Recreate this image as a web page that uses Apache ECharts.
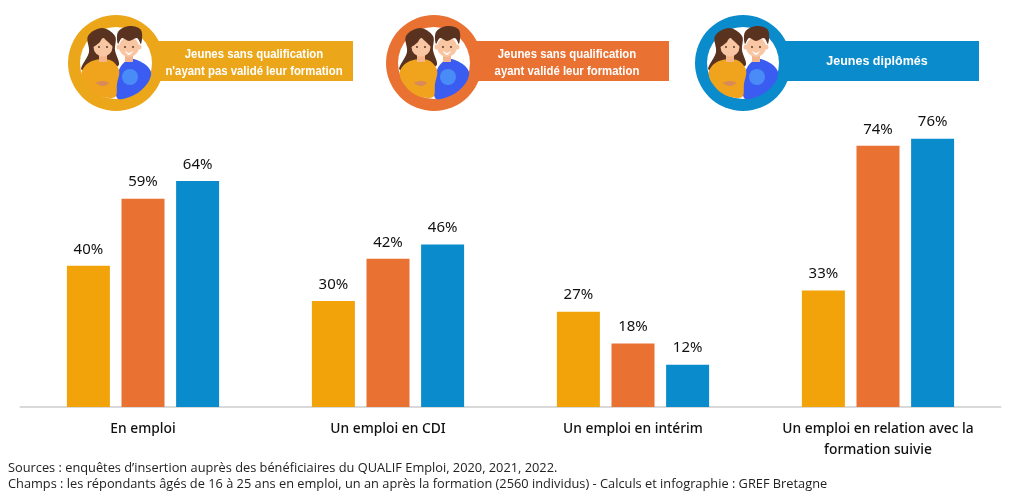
<!DOCTYPE html>
<html>
<head>
<meta charset="utf-8">
<script src="https://cdn.jsdelivr.net/npm/echarts@6/dist/echarts.min.js"></script>
<style>
html,body{margin:0;padding:0;background:#fff}
#chart{width:1024px;height:497px}
</style>
</head>
<body>
<div id="chart"></div>
<script>
var categories = ['En emploi', 'Un emploi en CDI', 'Un emploi en intérim', 'Un emploi en relation avec la\nformation suivie'];
var seriesNames = ['Jeunes sans qualification n\'ayant pas validé leur formation', 'Jeunes sans qualification ayant validé leur formation', 'Jeunes diplômés'];
var sansValidation = [40, 30, 27, 33];
var avecValidation = [59, 42, 18, 74];
var diplomes = [64, 46, 12, 76];
var colors = ['#f2a30a', '#e97132', '#0a8bcb'];
var badgeColors = ['#eca61a', '#e97132', '#0a8bcb'];
var headerLines = [
    ['Jeunes sans qualification', 'n\'ayant pas validé leur formation'],
    ['Jeunes sans qualification', 'ayant validé leur formation'],
    ['Jeunes diplômés']
];
var sources = 'Sources : enquêtes d’insertion auprès des bénéficiaires du QUALIF Emploi, 2020, 2021, 2022.';
var champs = 'Champs : les répondants âgés de 16 à 25 ans en emploi, un an après la formation (2560 individus) - Calculs et infographie : GREF Bretagne';

// forme lissee, points relatifs au centre du badge
function blob(cx, pts, fill) {
    return {
        type: 'polygon',
        shape: {points: pts.map(function (p) { return [cx + p[0], p[1]]; }), smooth: 0.35},
        style: {fill: fill}
    };
}

function dot(x, y, r, fill) {
    return {type: 'circle', shape: {cx: x, cy: y, r: r}, style: {fill: fill}};
}

// badge rond + bandeau de legende
function badge(cx, barRight, color, lines, textX, sx) {
    var els = [];
    var hair = '#5a3320', skin = '#f8c6a2';
    els.push({type: 'rect', shape: {x: cx, y: 41, width: barRight - cx, height: 40}, style: {fill: color}});
    els.push(dot(cx, 63, 48, color));
    els.push(dot(cx, 63, 36, '#fff'));
    // garcon
    els.push(blob(cx, [[1, 98], [3, 70], [14, 59], [27, 63], [35, 72], [31, 84], [18, 95]], '#3b5cf0'));
    els.push(dot(cx + 14, 77, 8, '#4a8cf7'));
    els.push({type: 'rect', shape: {x: cx + 9, y: 53, width: 8, height: 9}, style: {fill: '#f5b58c'}});
    els.push(dot(cx + 3, 47, 2.5, skin));
    els.push(dot(cx + 23, 47, 2.5, skin));
    els.push(dot(cx + 13, 47, 10, skin));
    els.push(blob(cx, [[2, 44], [2, 32], [13, 26], [25, 30], [25, 44], [21, 38], [13, 41], [6, 38]], hair));
    els.push(dot(cx + 9, 47, 0.9, '#4a2a1a'));
    els.push(dot(cx + 17, 47, 0.9, '#4a2a1a'));
    els.push(blob(cx, [[9, 51], [13, 53], [17, 51], [13, 55]], '#fff'));
    // fille
    els.push(blob(cx, [[-34, 70], [-27, 52], [-28, 36], [-14, 28], [-1, 36], [-1, 50], [2, 66]], hair));
    els.push(blob(cx, [[-34, 71], [-24, 61], [-6, 60], [3, 70], [1, 84], [-1, 97], [-18, 95], [-31, 83]], '#f0a31c'));
    els.push({type: 'rect', shape: {x: cx - 17, y: 53, width: 8, height: 9}, style: {fill: '#f5b58c'}});
    els.push(dot(cx - 13, 47, 9.5, skin));
    els.push(blob(cx, [[-24, 47], [-20, 36], [-13, 33], [-5, 37], [-3, 46], [-9, 41], [-13, 38], [-17, 43]], hair));
    els.push(dot(cx - 17, 47, 0.9, '#4a2a1a'));
    els.push(dot(cx - 9, 47, 0.9, '#4a2a1a'));
    els.push(blob(cx, [[-20, 83], [-13, 81], [-7, 83], [-13, 86]], '#d98a5a'));
    // texte du bandeau
    var startY = lines.length == 2 ? 54.5 : 62;
    lines.forEach(function (line, i) {
        els.push({
            type: 'text',
            x: textX,
            y: startY + i * 17,
            scaleX: sx,
            style: {
                x: 0, y: 0, text: line, fill: '#fff',
                font: 'bold 12.5px "Liberation Sans"',
                textAlign: 'center', textVerticalAlign: 'middle'
            }
        });
    });
    return els;
}

var graphics = []
    .concat(badge(116, 353, badgeColors[0], headerLines[0], 254, 0.91))
    .concat(badge(434, 669, badgeColors[1], headerLines[1], 567, 0.91))
    .concat(badge(743, 979, badgeColors[2], headerLines[2], 877, 1));

graphics.push({type: 'text', style: {x: 8, y: 468, text: sources, fill: '#222', font: '12.8px "Open Sans"', textVerticalAlign: 'middle'}});
graphics.push({type: 'text', style: {x: 8, y: 484, text: champs, fill: '#222', font: '12.8px "Open Sans"', textVerticalAlign: 'middle'}});

function barSeries(name, values, color) {
    return {
        name: name,
        type: 'bar',
        data: values,
        barWidth: 43,
        barGap: '27%',
        itemStyle: {color: color},
        label: {
            show: true,
            position: 'top',
            distance: 9,
            formatter: '{c}%',
            color: '#111',
            fontFamily: 'Noto Sans',
            fontSize: 15
        }
    };
}

var myChart = echarts.init(document.getElementById('chart'), null, {renderer: 'canvas'});
myChart.setOption({
    animation: false,
    backgroundColor: '#fff',
    grid: {left: 20.5, right: 23.5, top: 54, bottom: 90, containLabel: false},
    xAxis: {
        type: 'category',
        data: categories,
        axisTick: {show: false},
        axisLine: {lineStyle: {color: '#d9d9d9', width: 2}},
        axisLabel: {
            color: '#111',
            fontFamily: 'Noto Sans',
            fontWeight: 500,
            fontSize: 13.8,
            lineHeight: 21,
            margin: 12,
            interval: 0
        }
    },
    yAxis: {type: 'value', min: 0, max: 100, show: false, splitLine: {show: false}},
    series: [
        barSeries(seriesNames[0], sansValidation, colors[0]),
        barSeries(seriesNames[1], avecValidation, colors[1]),
        barSeries(seriesNames[2], diplomes, colors[2])
    ],
    graphic: {elements: graphics}
});
</script>
</body>
</html>
